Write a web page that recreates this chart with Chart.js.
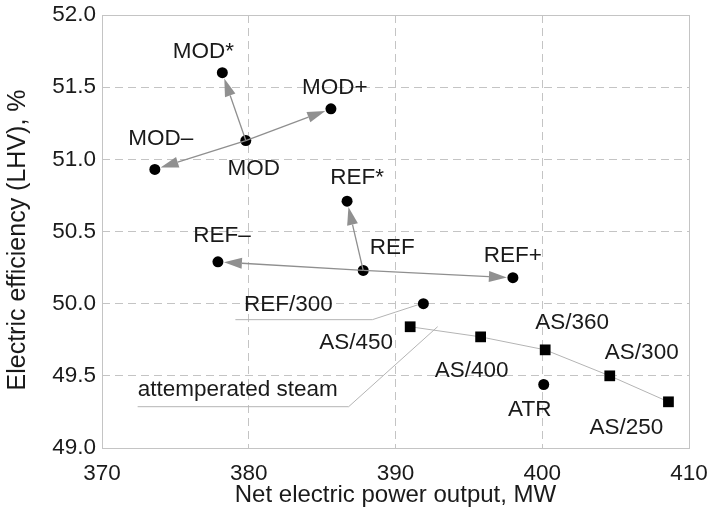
<!DOCTYPE html>
<html>
<head>
<meta charset="utf-8">
<script src="https://cdn.jsdelivr.net/npm/chart.js@4/dist/chart.umd.min.js"></script>
<style>
  html, body { margin: 0; padding: 0; background: #fff; }
  #wrap { width: 712px; height: 516px; }
</style>
</head>
<body>
<div id="wrap"><canvas id="eff"></canvas></div>
<script>
// plant variants shown as round markers
const caseNames = ['MOD', 'MOD*', 'MOD+', 'MOD–', 'REF', 'REF*', 'REF+', 'REF–', 'REF/300', 'ATR'];
const casePower = [379.8, 378.2, 385.6, 373.6, 387.8, 386.7, 398.0, 377.9, 391.9, 400.1];
const caseEff = [51.13, 51.60, 51.35, 50.93, 50.23, 50.71, 50.18, 50.29, 50.00, 49.44];

// attemperated steam series (square markers, joined by a line)
const asNames = ['AS/450', 'AS/400', 'AS/360', 'AS/300', 'AS/250'];
const asPower = [391.0, 395.8, 400.2, 404.6, 408.6];
const asEff = [49.84, 49.77, 49.68, 49.50, 49.32];

// arrows: [from, to]
const arrows = [
  ['MOD', 'MOD*'], ['MOD', 'MOD+'], ['MOD', 'MOD–'],
  ['REF', 'REF*'], ['REF', 'REF+'], ['REF', 'REF–']
];

const xTicks = [370, 380, 390, 400, 410];
const yTicks = [49.0, 49.5, 50.0, 50.5, 51.0, 51.5, 52.0];

const FONT = '"Liberation Sans", Arial, sans-serif';
const INK = '#1a1a1a';

// label placement relative to marker, px
const labelOffset = {
  'MOD*': [-19, -21], 'MOD': [8, 28], 'MOD+': [4, -21], 'MOD–': [6, -31],
  'REF*': [10, -23], 'REF': [29, -23], 'REF+': [0, -22], 'REF–': [4, -26],
  'REF/300': [-135, 1], 'ATR': [-14, 25],
  'AS/450': [-54, 16], 'AS/400': [-9, 34], 'AS/360': [27, -27],
  'AS/300': [32, -23], 'AS/250': [-42, 26]
};

const casePts = caseNames.map((n, i) => ({ x: casePower[i], y: caseEff[i], name: n }));
const asPts = asNames.map((n, i) => ({ x: asPower[i], y: asEff[i], name: n }));

function px(chart, p) {
  return [chart.scales.x.getPixelForValue(p.x), chart.scales.y.getPixelForValue(p.y)];
}
function find(name) {
  return casePts.find(p => p.name === name) || asPts.find(p => p.name === name);
}

function drawArrow(ctx, a, b) {
  const dx = b[0] - a[0], dy = b[1] - a[1];
  const len = Math.hypot(dx, dy);
  const ux = dx / len, uy = dy / len;
  const tip = [b[0] - ux * 6, b[1] - uy * 6];
  const base = [tip[0] - ux * 18, tip[1] - uy * 18];
  ctx.strokeStyle = '#8f8f8f';
  ctx.lineWidth = 1.3;
  ctx.beginPath();
  ctx.moveTo(a[0], a[1]);
  ctx.lineTo(base[0], base[1]);
  ctx.stroke();
  ctx.fillStyle = '#909090';
  ctx.beginPath();
  ctx.moveTo(tip[0], tip[1]);
  ctx.lineTo(base[0] - uy * 5.5, base[1] + ux * 5.5);
  ctx.lineTo(base[0] + uy * 5.5, base[1] - ux * 5.5);
  ctx.closePath();
  ctx.fill();
}

function polyline(ctx, pts) {
  ctx.beginPath();
  pts.forEach((p, i) => i ? ctx.lineTo(p[0], p[1]) : ctx.moveTo(p[0], p[1]));
  ctx.stroke();
}

const annot = {
  id: 'annot',
  beforeDatasetsDraw(chart) {
    const ctx = chart.ctx;
    const ca = chart.chartArea;
    ctx.save();
    // frame
    ctx.strokeStyle = '#c4c4c4';
    ctx.lineWidth = 1;
    ctx.strokeRect(Math.round(ca.left) + 0.5, Math.round(ca.top) + 0.5,
      Math.round(ca.right - ca.left), Math.round(ca.bottom - ca.top));

    // leader lines
    ctx.strokeStyle = '#b4b4b4';
    ctx.lineWidth = 1;
    const r3 = px(chart, find('REF/300'));
    polyline(ctx, [[r3[0] - 5, r3[1] + 1], [r3[0] - 51, r3[1] + 16], [r3[0] - 188, r3[1] + 16]]);

    const s1 = px(chart, asPts[0]), s2 = px(chart, asPts[1]);
    const t = 0.39;
    const anc = [s1[0] + (s2[0] - s1[0]) * t, s1[1] + (s2[1] - s1[1]) * t];
    polyline(ctx, [[anc[0], anc[1] - 4], [anc[0] - 89, anc[1] + 76], [anc[0] - 300, anc[1] + 76]]);
    chart.$steamAnchor = anc;
    ctx.restore();
  },
  afterDatasetsDraw(chart) {
    const ctx = chart.ctx;
    ctx.save();
    // arrows sit on top of the base markers
    arrows.forEach(([f, to]) => drawArrow(ctx, px(chart, find(f)), px(chart, find(to))));

    ctx.fillStyle = INK;
    ctx.font = '22.5px ' + FONT;
    ctx.textAlign = 'center';
    ctx.textBaseline = 'middle';
    casePts.concat(asPts).forEach(p => {
      const [x, y] = px(chart, p);
      const o = labelOffset[p.name];
      ctx.fillText(p.name, x + o[0], y + o[1]);
    });
    const anc = chart.$steamAnchor;
    ctx.textAlign = 'left';
    ctx.fillText('attemperated steam', anc[0] - 300, anc[1] + 59);

    // y axis title
    ctx.font = '25px ' + FONT;
    ctx.textAlign = 'center';
    ctx.translate(18, 240);
    ctx.rotate(-Math.PI / 2);
    ctx.fillText('Electric efficiency (LHV), %', 0, 0);
    ctx.restore();
  }
};

const edgeHidden = (lo, hi) => c =>
  (c.tick && (Math.abs(c.tick.value - lo) < 1e-9 || Math.abs(c.tick.value - hi) < 1e-9)) ? 'rgba(0,0,0,0)' : '#c4c4c4';

new Chart(document.getElementById('eff'), {
  type: 'scatter',
  data: {
    datasets: [
      {
        data: casePts,
        pointStyle: 'circle',
        pointRadius: 5.5,
        pointHoverRadius: 5.5,
        backgroundColor: '#000',
        borderWidth: 0
      },
      {
        data: asPts,
        showLine: true,
        borderColor: '#b4b4b4',
        borderWidth: 1,
        pointStyle: 'rect',
        pointRadius: 7.6,
        pointHoverRadius: 7.6,
        pointBackgroundColor: '#000',
        pointBorderWidth: 0
      }
    ]
  },
  options: {
    responsive: true,
    maintainAspectRatio: false,
    animation: false,
    layout: { padding: { top: 15, right: 23, left: 0, bottom: 0 } },
    plugins: { legend: { display: false }, tooltip: { enabled: false } },
    scales: {
      x: {
        type: 'linear',
        min: xTicks[0], max: xTicks[xTicks.length - 1],
        afterBuildTicks: s => { s.ticks = xTicks.map(v => ({ value: v })); },
        afterFit: s => { s.height = 68; s.paddingLeft = 0; s.paddingRight = 0; },
        ticks: { font: { size: 22.5, family: FONT }, color: INK, padding: 12, maxRotation: 0 },
        grid: { color: edgeHidden(370, 410), drawTicks: false, lineWidth: 1 },
        border: { display: false, dash: [8, 5] },
        title: {
          display: true,
          text: 'Net electric power output, MW',
          font: { size: 24, family: FONT },
          color: INK,
          padding: { top: 0, bottom: 6 }
        }
      },
      y: {
        type: 'linear',
        min: yTicks[0], max: yTicks[yTicks.length - 1],
        afterBuildTicks: s => { s.ticks = yTicks.map(v => ({ value: v })); },
        afterFit: s => { s.width = 102; s.paddingTop = 0; s.paddingBottom = 0; },
        ticks: {
          font: { size: 22.5, family: FONT }, color: INK, padding: 6,
          callback: v => Number(v).toFixed(1)
        },
        grid: { color: edgeHidden(49, 52), drawTicks: false, lineWidth: 1 },
        border: { display: false, dash: [8, 5] }
      }
    }
  },
  plugins: [annot]
});
</script>
</body>
</html>
